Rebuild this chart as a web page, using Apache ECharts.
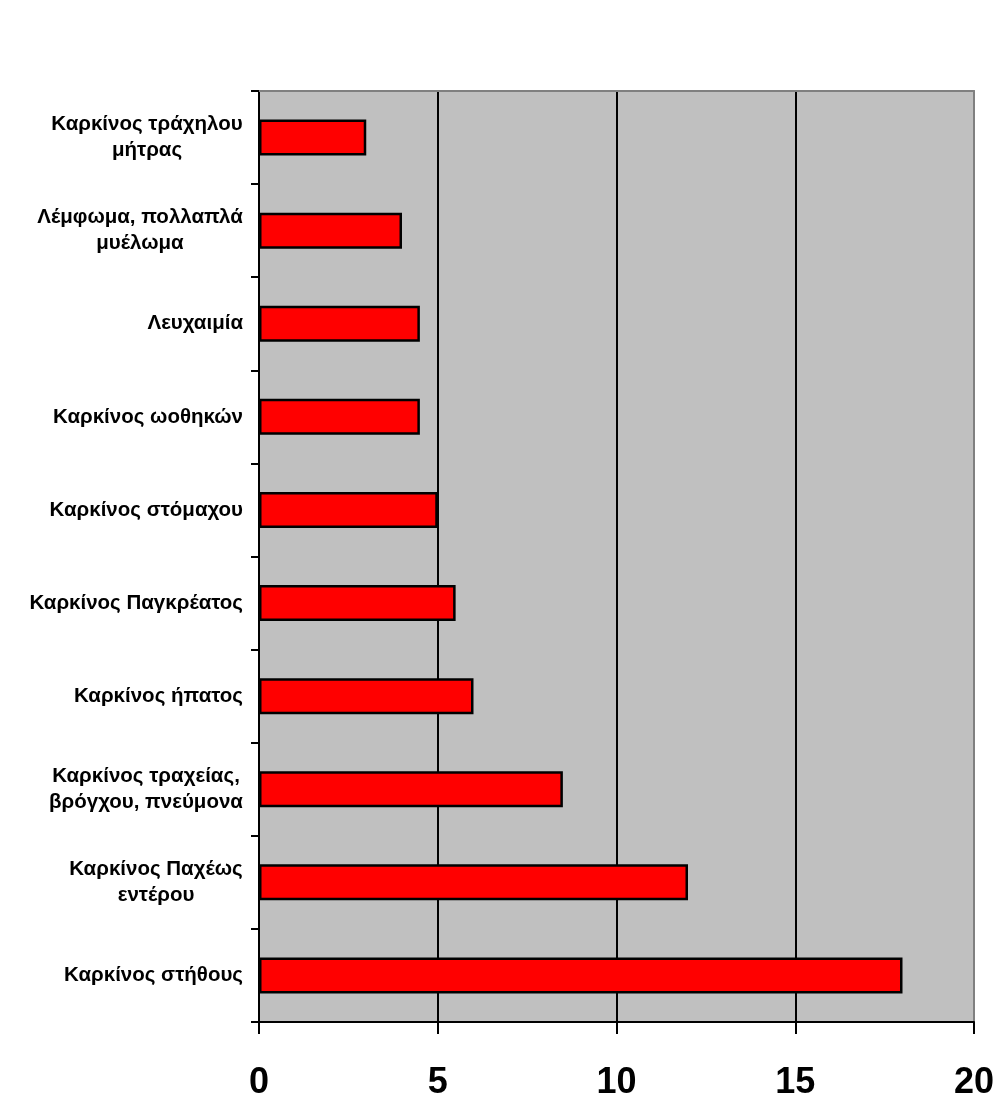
<!DOCTYPE html>
<html>
<head>
<meta charset="utf-8">
<script src="https://cdn.jsdelivr.net/npm/echarts@6/dist/echarts.min.js"></script>
<style>
  html, body { margin: 0; padding: 0; background: #ffffff; }
  #chart { width: 997px; height: 1097px; }
</style>
</head>
<body>
<div id="chart"></div>
<script>
// Cancer types, listed top to bottom
const categories = [
  'Καρκίνος τράχηλου\nμήτρας',
  'Λέμφωμα, πολλαπλά\nμυέλωμα',
  'Λευχαιμία',
  'Καρκίνος ωοθηκών',
  'Καρκίνος στόμαχου',
  'Καρκίνος Παγκρέατος',
  'Καρκίνος ήπατος',
  'Καρκίνος τραχείας,\nβρόγχου, πνεύμονα',
  'Καρκίνος Παχέως\nεντέρου',
  'Καρκίνος στήθους'
];
const values = [3, 4, 4.5, 4.5, 5, 5.5, 6, 8.5, 12, 18];
const xTicks = [0, 5, 10, 15, 20];

const LABEL_FONT = '"Liberation Sans", Arial, sans-serif';
const TICK_FONT = '"Liberation Sans", Arial, sans-serif';
const LABEL_SIZE = 20.5;
const LABEL_LH = 26;

// Multi-line labels: block right-aligned to the axis, lines centred within the block
const ctx = document.createElement('canvas').getContext('2d');
ctx.font = 'bold ' + LABEL_SIZE + 'px ' + LABEL_FONT;
function labelWidth(value) {
  const lines = value.split('\n');
  return Math.ceil(Math.max.apply(null, lines.map(l => ctx.measureText(l).width)));
}
const richStyles = {};
categories.forEach(c => {
  if (c.indexOf('\n') >= 0) {
    const w = labelWidth(c);
    richStyles['c' + w] = {
      width: w, align: 'center', color: '#000',
      fontFamily: LABEL_FONT, fontWeight: 'bold', fontSize: LABEL_SIZE, lineHeight: LABEL_LH
    };
  }
});

const chart = echarts.init(document.getElementById('chart'), null, { renderer: 'canvas' });

chart.setOption({
  animation: false,
  backgroundColor: '#ffffff',
  grid: {
    left: 259, right: 23, top: 91, bottom: 75,
    outerBoundsMode: 'none',
    containLabel: false,
    show: true,
    backgroundColor: '#c0c0c0',
    borderWidth: 0
  },
  xAxis: [{
    type: 'value',
    min: 0, max: 20, interval: 5,
    position: 'bottom',
    axisLine: { show: true, onZero: false, lineStyle: { color: '#000', width: 2 } },
    axisTick: { show: true, length: 12, lineStyle: { color: '#000', width: 2 } },
    axisLabel: {
      margin: 43,
      color: '#000',
      fontFamily: TICK_FONT,
      fontWeight: 'bold',
      fontSize: 36,
      formatter: v => xTicks.indexOf(v) >= 0 ? String(v) : ''
    },
    splitLine: { show: true, showMinLine: false, showMaxLine: false, lineStyle: { color: '#000', width: 2 } }
  }, {
    type: 'value',
    min: 0, max: 20, interval: 5,
    position: 'top',
    axisLine: { show: true, onZero: false, lineStyle: { color: '#808080', width: 2 } },
    axisTick: { show: false },
    axisLabel: { show: false },
    splitLine: { show: false }
  }],
  yAxis: [{
    type: 'category',
    data: categories,
    inverse: true,
    axisLine: { show: true, onZero: false, lineStyle: { color: '#000', width: 2 } },
    axisTick: { show: true, length: 8, lineStyle: { color: '#000', width: 2 } },
    axisLabel: {
      margin: 16,
      color: '#000',
      fontFamily: LABEL_FONT,
      fontWeight: 'bold',
      fontSize: LABEL_SIZE,
      lineHeight: LABEL_LH,
      interval: 0,
      formatter: function (value) {
        const lines = value.split('\n');
        if (lines.length === 1) return value;
        const w = labelWidth(value);
        return lines.map(l => '{c' + w + '|' + l + '}').join('\n');
      },
      rich: richStyles
    },
    splitLine: { show: false }
  }, {
    type: 'category',
    data: categories,
    inverse: true,
    position: 'right',
    axisLine: { show: true, onZero: false, lineStyle: { color: '#808080', width: 2 } },
    axisTick: { show: false },
    axisLabel: { show: false },
    splitLine: { show: false }
  }],
  series: [{
    type: 'bar',
    xAxisIndex: 0,
    yAxisIndex: 0,
    data: values,
    barWidth: 36,
    itemStyle: { color: '#ff0000', borderColor: '#000', borderWidth: 2.5 },
    z: 3
  }]
});
</script>
</body>
</html>
